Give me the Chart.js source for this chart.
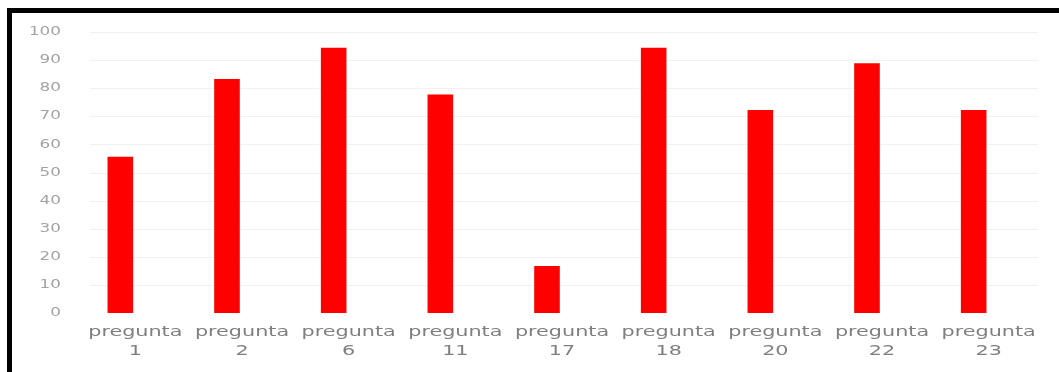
<!DOCTYPE html>
<html>
<head>
<meta charset="utf-8">
<script src="https://cdn.jsdelivr.net/npm/chart.js@4/dist/chart.umd.min.js"></script>
<style>
  html, body { margin: 0; padding: 0; background: #fff; width: 1059px; height: 372px; overflow: hidden; }
  #frame { position: absolute; left: 7px; top: 8px; width: 1052px; height: 364px; box-sizing: border-box;
           border-top: 5px solid #000; border-left: 5px solid #000; }
  #chart { position: absolute; left: 12px; top: 13px; }
</style>
</head>
<body>
<div id="frame"></div>
<canvas id="chart" width="1047" height="359"></canvas>
<script>
// Porcentaje de respuestas correctas por pregunta
const categories = [
  ['pregunta', '1'], ['pregunta', '2'], ['pregunta', '6'], ['pregunta', '11'], ['pregunta', '17'],
  ['pregunta', '18'], ['pregunta', '20'], ['pregunta', '22'], ['pregunta', '23']
];
const values = [55.6, 83.3, 94.4, 77.8, 16.7, 94.4, 72.2, 88.9, 72.2];
const yTicks = [0, 10, 20, 30, 40, 50, 60, 70, 80, 90, 100];

// Horizontally widened lettering for the axis labels
const wideText = {
  id: 'wideText',
  beforeInit(chart) {
    const ctx = chart.ctx;
    const fill = ctx.fillText.bind(ctx);
    ctx.fillText = function (text, x, y, maxWidth) {
      const s = /\b14px/.test(ctx.font) ? 1.48 : 1.4;
      ctx.save();
      ctx.translate(x, y);
      ctx.scale(s, 1);
      if (maxWidth === undefined) fill(text, 0, 0); else fill(text, 0, 0, maxWidth);
      ctx.restore();
    };
  }
};

// Faint horizontal guide lines, slightly shifted right of the plot area
const guides = {
  id: 'guides',
  beforeDatasetsDraw(chart) {
    const { ctx, chartArea, scales } = chart;
    ctx.save();
    ctx.strokeStyle = '#f1f1f1';
    ctx.lineWidth = 1;
    yTicks.forEach(v => {
      if (v === 0) return;
      const y = Math.round(scales.y.getPixelForValue(v)) + 0.5;
      ctx.beginPath();
      ctx.moveTo(chartArea.left + 23, y);
      ctx.lineTo(chartArea.right + 11, y);
      ctx.stroke();
    });
    ctx.restore();
  }
};

new Chart(document.getElementById('chart'), {
  type: 'bar',
  data: {
    labels: categories,
    datasets: [{
      data: values,
      backgroundColor: '#ff0000',
      categoryPercentage: 1,
      barPercentage: 0.24
    }]
  },
  options: {
    responsive: false,
    devicePixelRatio: 1,
    animation: false,
    layout: { padding: { top: 19, right: 32, left: 0, bottom: 0 } },
    plugins: { legend: { display: false }, tooltip: { enabled: false } },
    scales: {
      x: {
        grid: { display: false, drawTicks: false },
        border: { display: false },
        afterFit(scale) { scale.height = 59; },
        ticks: {
          maxRotation: 0,
          autoSkip: false,
          padding: 10,
          labelOffset: 15,
          color: '#7f7f7f',
          font: { family: 'DejaVu Sans', size: 14, lineHeight: 1.35 }
        }
      },
      y: {
        min: 0,
        max: 100,
        grid: { display: false, drawTicks: false },
        border: { display: false },
        afterFit(scale) { scale.width = 55; },
        afterBuildTicks(scale) { scale.ticks = yTicks.map(v => ({ value: v })); },
        ticks: {
          padding: 6,
          color: '#a3a3a3',
          font: { family: 'DejaVu Sans', size: 12 }
        }
      }
    }
  },
  plugins: [wideText, guides]
});
</script>
</body>
</html>
